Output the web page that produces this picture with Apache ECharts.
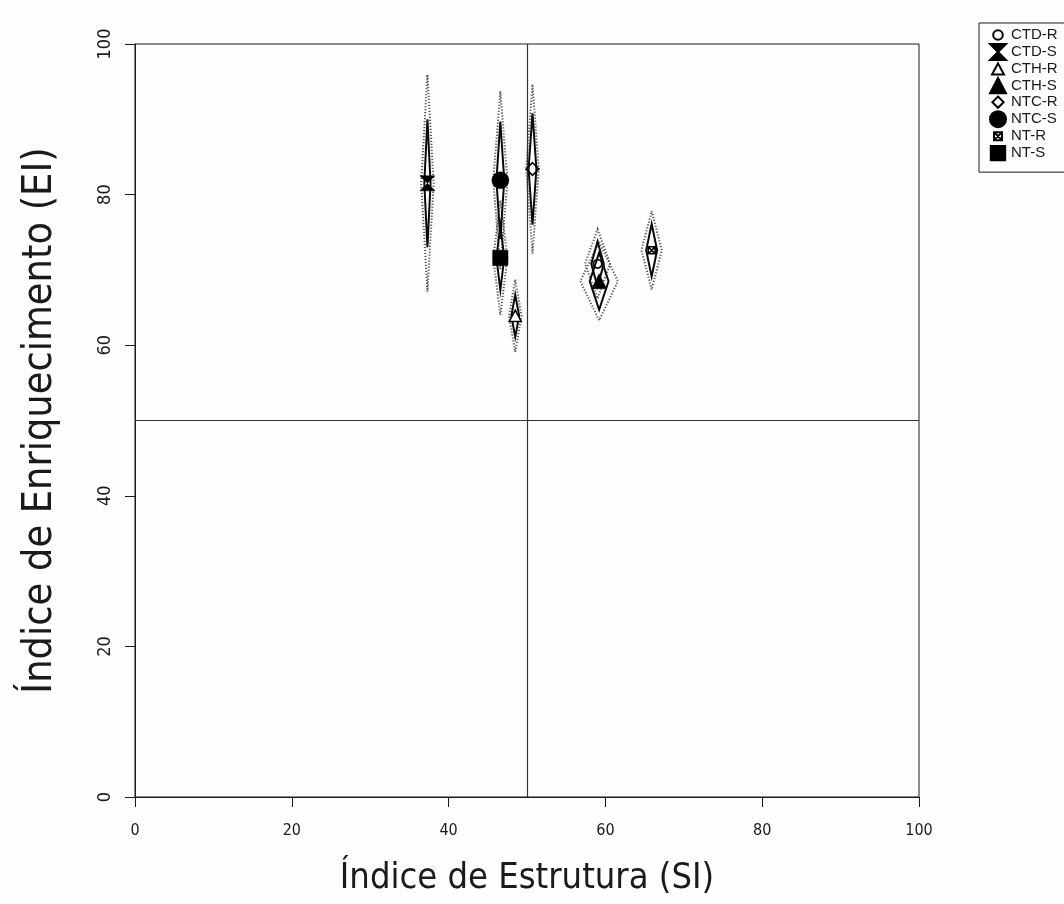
<!DOCTYPE html>
<html>
<head>
<meta charset="utf-8">
<script src="https://cdn.jsdelivr.net/npm/echarts@6/dist/echarts.min.js"></script>
<style>
  html, body { margin: 0; padding: 0; background: #fefefe; }
  #chart { width: 1064px; height: 904px; }
</style>
</head>
<body>
<div id="chart"></div>
<script>
// Faunal analysis: Structure Index (SI) vs Enrichment Index (EI) per treatment
const groups   = ['CTD-R', 'CTD-S', 'CTH-R', 'CTH-S', 'NTC-R', 'NTC-S', 'NT-R', 'NT-S'];
const siMean   = [59.0, 37.3, 48.5, 59.2, 50.7, 46.6, 65.9, 46.6];
const eiMean   = [70.8, 81.5, 63.9, 68.5, 83.4, 81.9, 72.6, 71.6];
// half-widths of the inner (solid) and outer (dotted) diamonds
const siInner  = [0.8, 0.4, 0.5, 1.2, 0.5, 0.5, 0.7, 0.5];
const eiInner  = [3.0, 8.5, 2.8, 3.8, 7.4, 7.8, 3.5, 4.3];
const siOuter  = [1.6, 0.8, 0.8, 2.4, 0.8, 0.9, 1.3, 0.9];
const eiOuter  = [4.6, 14.4, 4.8, 5.2, 11.2, 11.8, 5.2, 7.6];
// quadrant dividers
const siCut = 50;
const eiCut = 50;
const axisTicks = [0, 20, 40, 60, 80, 100];

const FONT = "'Liberation Sans Narrow', 'DejaVu Sans Condensed', 'Liberation Sans', sans-serif";
const INK = '#1a1a1a';

// symbols (padded with invisible moves so small glyphs keep their size in the legend)
const symbols = {
  'CTD-R': 'path://M0,0M20,20M10,4A6,6,0,1,1,9.99,4Z',
  'CTD-S': 'path://M1,1L19,1L10,10L19,19L1,19L10,10Z',
  'CTH-R': 'path://M0,0M20,20M10,3L17.5,17L2.5,17Z',
  'CTH-S': 'path://M10,1L19.5,19L0.5,19Z',
  'NTC-R': 'path://M0,0M20,20M10,3L17,10L10,17L3,10Z',
  'NTC-S': 'circle',
  'NT-R':  'path://M0,0M20,20M5,5L15,5L15,15L5,15Z M5,5L15,15 M15,5L5,15',
  'NT-S':  'path://M0,0M20,20M1,1L19,1L19,19L1,19Z'
};
const symbolSizes = { 'CTD-R': 14, 'CTD-S': 15, 'CTH-R': 16, 'CTH-S': 15, 'NTC-R': 18, 'NTC-S': 17, 'NT-R': 14, 'NT-S': 17 };
// marker fill: solid black, white, or hollow
const fills = { 'CTD-R': 'none', 'CTD-S': 'solid', 'CTH-R': 'white', 'CTH-S': 'solid', 'NTC-R': 'none', 'NTC-S': 'solid', 'NT-R': 'white', 'NT-S': 'solid' };

function diamondRenderer(style) {
  return function (params, api) {
    const x = api.value(0), y = api.value(1), hx = api.value(2), hy = api.value(3);
    const pts = [
      api.coord([x, y + hy]),
      api.coord([x + hx, y]),
      api.coord([x, y - hy]),
      api.coord([x - hx, y])
    ];
    return { type: 'polygon', shape: { points: pts }, style: Object.assign({ fill: 'none' }, style) };
  };
}

const outerData = groups.map((g, i) => [siMean[i], eiMean[i], siOuter[i], eiOuter[i]]);
const innerData = groups.map((g, i) => [siMean[i], eiMean[i], siInner[i], eiInner[i]]);

const series = [
  {
    type: 'custom', name: 'outer', clip: false, z: 2,
    renderItem: diamondRenderer({ stroke: '#555', lineWidth: 2, lineDash: [1.2, 1.8] }),
    encode: { x: 0, y: 1 }, data: outerData, silent: true
  },
  {
    type: 'custom', name: 'inner', clip: false, z: 3,
    renderItem: diamondRenderer({ stroke: '#0a0a0a', lineWidth: 2 }),
    encode: { x: 0, y: 1 }, data: innerData, silent: true,
    markLine: {
      silent: true, symbol: 'none', label: { show: false },
      lineStyle: { color: '#333', width: 1.2, type: 'solid', opacity: 1 },
      data: [{ xAxis: siCut }, { yAxis: eiCut }]
    }
  }
];

function markerStyle(kind) {
  if (kind === 'solid') return { color: '#000', borderColor: '#000', borderWidth: 0.5, opacity: 1 };
  if (kind === 'white') return { color: '#fff', borderColor: '#000', borderWidth: 1.6, opacity: 1 };
  return { color: 'rgba(255,255,255,0)', borderColor: '#000', borderWidth: 1.6, opacity: 1 };
}

groups.forEach((g, i) => {
  series.push({
    type: 'scatter', name: g, z: 5,
    symbol: symbols[g], symbolSize: symbolSizes[g],
    itemStyle: markerStyle(fills[g]),
    emphasis: { disabled: true },
    data: [[siMean[i], eiMean[i]]]
  });
});

const chart = echarts.init(document.getElementById('chart'), null, { renderer: 'canvas' });
chart.setOption({
  backgroundColor: '#fefefe',
  animation: false,
  grid: { left: 135, right: 145, top: 44, bottom: 107, show: true, borderColor: INK, borderWidth: 1, backgroundColor: 'transparent' },
  xAxis: {
    type: 'value', min: axisTicks[0], max: axisTicks[axisTicks.length - 1], interval: 20,
    name: 'Índice de Estrutura (SI)', nameLocation: 'middle', nameGap: 64,
    nameTextStyle: { fontFamily: FONT, fontSize: 36, color: INK },
    axisLine: { show: true, lineStyle: { color: INK, width: 1 } },
    axisTick: { show: true, inside: false, length: 10, lineStyle: { color: INK } },
    axisLabel: { fontFamily: FONT, fontSize: 16, color: INK, margin: 26 },
    splitLine: { show: false }
  },
  yAxis: {
    type: 'value', min: axisTicks[0], max: axisTicks[axisTicks.length - 1], interval: 20,
    name: 'Índice de Enriquecimento (EI)', nameLocation: 'middle', nameGap: 74, nameRotate: 90,
    nameTextStyle: { fontFamily: FONT, fontSize: 41, color: INK },
    axisLine: { show: true, lineStyle: { color: INK, width: 1 } },
    axisTick: { show: true, inside: false, length: 10, lineStyle: { color: INK } },
    axisLabel: { fontFamily: FONT, fontSize: 18, color: INK, margin: 21, rotate: 90 },
    splitLine: { show: false }
  },
  legend: {
    orient: 'vertical', left: 979, top: 23,
    padding: [3, 10, 10, 10], itemGap: -1, itemWidth: 16, itemHeight: 16,
    borderColor: INK, borderWidth: 1, backgroundColor: '#fefefe',
    textStyle: { fontFamily: "'Liberation Sans', Arial, sans-serif", fontSize: 15, color: INK },
    data: groups.map(g => ({ name: g, icon: symbols[g] }))
  },
  series: series
});
</script>
</body>
</html>
